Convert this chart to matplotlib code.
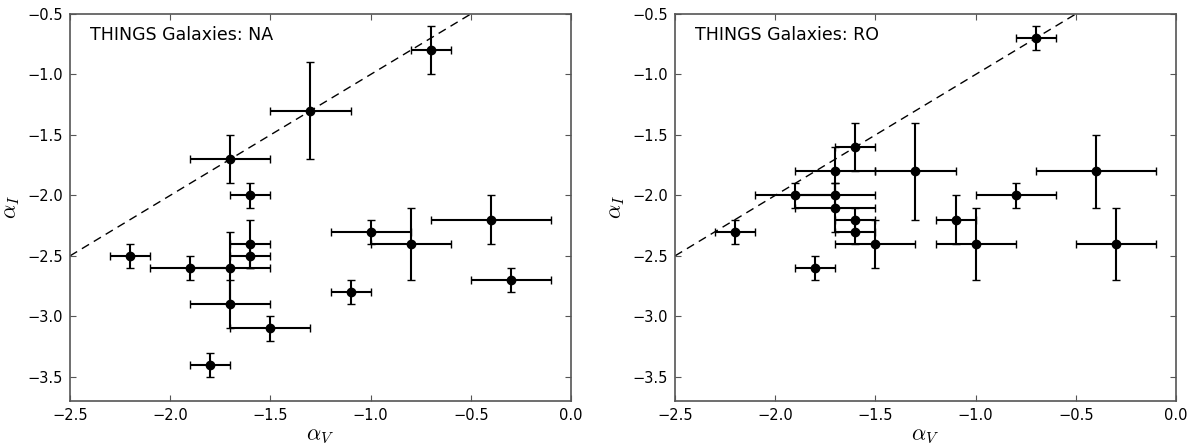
import matplotlib
matplotlib.use("Agg")
import matplotlib.pyplot as plt

plt.rcParams['mathtext.fontset'] = 'cm'

# NA panel
na_x    = [-0.7, -1.3, -1.7, -1.6, -0.4, -1.0, -0.8, -1.6, -1.6, -2.2, -1.9, -1.7, -1.7, -1.5, -1.1, -0.3, -1.8]
na_y    = [-0.8, -1.3, -1.7, -2.0, -2.2, -2.3, -2.4, -2.4, -2.5, -2.5, -2.6, -2.6, -2.9, -3.1, -2.8, -2.7, -3.4]
na_xerr = [0.1, 0.2, 0.2, 0.1, 0.3, 0.2, 0.2, 0.1, 0.1, 0.1, 0.2, 0.2, 0.2, 0.2, 0.1, 0.2, 0.1]
na_yerr = [0.2, 0.4, 0.2, 0.1, 0.2, 0.1, 0.3, 0.2, 0.1, 0.1, 0.1, 0.3, 0.2, 0.1, 0.1, 0.1, 0.1]

# RO panel
ro_x    = [-0.7, -1.6, -1.3, -1.7, -0.4, -1.9, -1.7, -0.8, -1.7, -1.6, -1.6, -1.5, -1.1, -1.0, -0.3, -2.2, -1.8]
ro_y    = [-0.7, -1.6, -1.8, -1.8, -1.8, -2.0, -2.0, -2.0, -2.1, -2.2, -2.3, -2.4, -2.2, -2.4, -2.4, -2.3, -2.6]
ro_xerr = [0.1, 0.1, 0.2, 0.2, 0.3, 0.2, 0.2, 0.2, 0.2, 0.1, 0.1, 0.2, 0.1, 0.2, 0.2, 0.1, 0.1]
ro_yerr = [0.1, 0.2, 0.4, 0.2, 0.3, 0.1, 0.1, 0.1, 0.2, 0.1, 0.1, 0.2, 0.2, 0.3, 0.3, 0.1, 0.1]

panels = [("THINGS Galaxies: NA", na_x, na_y, na_xerr, na_yerr),
          ("THINGS Galaxies: RO", ro_x, ro_y, ro_xerr, ro_yerr)]

line_x = [-2.5, -0.5]
xticks = [-2.5, -2.0, -1.5, -1.0, -0.5, 0.0]
yticks = [-3.5, -3.0, -2.5, -2.0, -1.5, -1.0, -0.5]

fig = plt.figure(figsize=(11.88, 4.47), dpi=100)
lefts = [70 / 1188, 675 / 1188]
w = 501 / 1188
b = 1 - 401 / 447
h = 387 / 447

for left, (title, x, y, xe, ye) in zip(lefts, panels):
    ax = fig.add_axes([left, b, w, h])
    ax.plot(line_x, line_x, linestyle='--', color='black', linewidth=1.0, dashes=(6, 4))
    ax.errorbar(x, y, xerr=xe, yerr=ye, fmt='o', color='black', ecolor='black',
                markersize=6, elinewidth=1.5, capsize=3, capthick=1.0)
    ax.set_xlim(-2.5, 0.0)
    ax.set_ylim(-3.7, -0.5)
    ax.set_xticks(xticks)
    ax.set_yticks(yticks)
    ax.tick_params(direction='in', top=True, right=True, length=4, width=0.8,
                   labelsize=10.5, color='#555555', pad=5)
    for s in ax.spines.values():
        s.set_color('#555555')
        s.set_linewidth(1.2)
    ax.set_xlabel(r'$\alpha_V$', fontsize=16, labelpad=2)
    ax.set_ylabel(r'$\alpha_I$', fontsize=16, labelpad=4)
    ax.text(0.04, 0.97, title, transform=ax.transAxes, fontsize=12.5,
            va='top', ha='left')

fig.savefig('out.png', dpi=100)
